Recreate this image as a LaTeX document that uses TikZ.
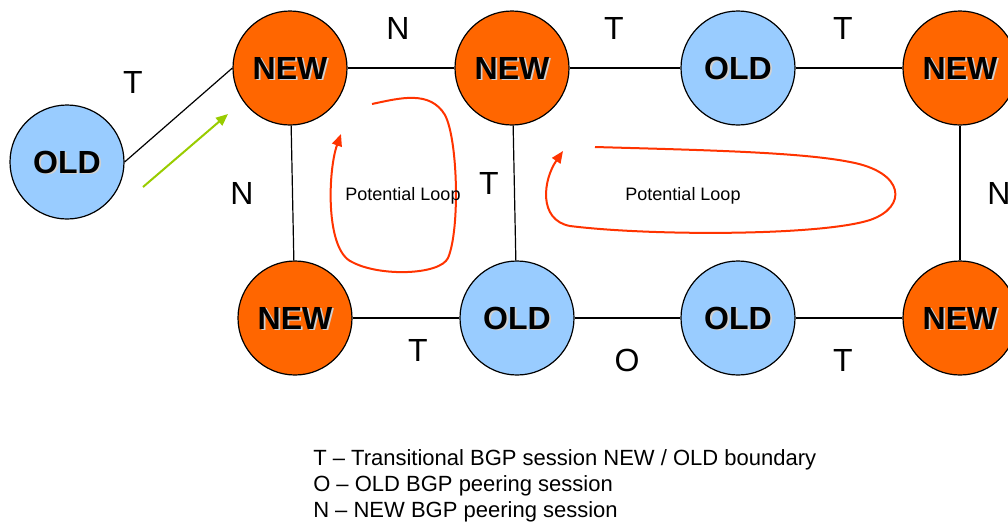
\documentclass[tikz,border=0pt]{standalone}
\usepackage{fontspec}
\setmainfont{Liberation Sans}
\usetikzlibrary{arrows.meta}
\definecolor{newc}{HTML}{FF6600}
\definecolor{oldc}{HTML}{99CCFF}
\definecolor{loopc}{HTML}{FF3300}
\definecolor{greenc}{HTML}{99CC00}
\tikzset{
  router/.style={circle,draw=black,line width=0.9pt,minimum size=85.5pt,inner sep=0pt},
  newr/.style={router,fill=newc},
  oldr/.style={router,fill=oldc},
  nodetxt/.style={font=\fontsize{24}{28}\selectfont\bfseries,text=black,inner sep=0pt},
  shadowtxt/.style={font=\fontsize{24}{28}\selectfont\bfseries,text=black!18,inner sep=0pt},
  link/.style={line width=0.9pt,draw=black},
  elabel/.style={font=\fontsize{24}{28}\selectfont,inner sep=0pt},
  looppath/.style={draw=loopc,line width=1.5pt,-{Triangle[length=9pt,width=7.5pt]}},
  looptxt/.style={font=\fontsize{13.5}{16}\selectfont,inner sep=0pt},
  legend/.style={font=\fontsize{16.5}{19.5}\selectfont,inner sep=0pt,anchor=base west}
}
\newcommand\routernode[4]{%
  \node[#3] (#1) at (#2) {};
  \node[shadowtxt] at ([shift={(1.8,1.8)}]#1.center) {#4};
  \node[nodetxt] at (#1.center) {#4};
}
\begin{document}
\begin{tikzpicture}[x=0.75pt,y=-0.75pt]
\useasboundingbox (0,0) rectangle (1008,522);
\clip (0,0) rectangle (1008,522);
% links first (behind nodes)
\routernode{o0}{67,162}{oldr}{OLD}
\routernode{t1}{290,68}{newr}{NEW}
\routernode{t2}{512,68}{newr}{NEW}
\routernode{t3}{738,68}{oldr}{OLD}
\routernode{t4}{960,68}{newr}{NEW}
\routernode{b1}{295,318}{newr}{NEW}
\routernode{b2}{517,318}{oldr}{OLD}
\routernode{b3}{738,318}{oldr}{OLD}
\routernode{b4}{960,318}{newr}{NEW}
\draw[link] (o0.east) -- (t1.west);
\draw[link] (t1) -- (t2);
\draw[link] (t2) -- (t3);
\draw[link] (t3) -- (t4);
\draw[link] (t1) -- (b1);
\draw[link] (t2) -- (b2);
\draw[link] (t4) -- (b4);
\draw[link] (b1) -- (b2);
\draw[link] (b2) -- (b3);
\draw[link] (b3) -- (b4);
% edge labels
\node[elabel] (l1) at (133,82) {T};
\node[elabel] (l2) at (398,28) {N};
\node[elabel] (l3) at (614,28) {T};
\node[elabel] (l4) at (843,28) {T};
\node[elabel] (l5) at (242,193) {N};
\node[elabel] (l6) at (489,183) {T};
\node[elabel] (l7) at (999,193) {N};
\node[elabel] (l8) at (418,350) {T};
\node[elabel] (l9) at (627,360) {O};
\node[elabel] (l10) at (843,360) {T};
% green arrow
\coordinate (gs) at (143,187);
\coordinate (ge) at (228,114);
\draw[draw=greenc,line width=1.5pt,-{Triangle[length=9pt,width=7.5pt]}] (gs) -- (ge);
% loops
\draw[looppath] (372,104) .. controls (400,98) and (430,90) .. (445,115)
  .. controls (458,140) and (460,230) .. (448,258)
  .. controls (440,275) and (380,277) .. (352,262)
  .. controls (325,250) and (328,170) .. (341,134);
\node[looptxt] (lp1) at (403,196) {Potential Loop};
\draw[looppath] (595,147) .. controls (700,150) and (800,152) .. (850,162)
  .. controls (905,172) and (908,207) .. (870,220)
  .. controls (820,236) and (650,236) .. (570,226)
  .. controls (538,220) and (543,180) .. (563,151);
\node[looptxt] (lp2) at (683,196) {Potential Loop};
% legend
\node[legend] (g1) at (313,465) {T – Transitional BGP session NEW / OLD boundary};
\node[legend] (g2) at (313,491) {O – OLD BGP peering session};
\node[legend] (g3) at (313,517) {N – NEW BGP peering session};
\end{tikzpicture}
\end{document}
